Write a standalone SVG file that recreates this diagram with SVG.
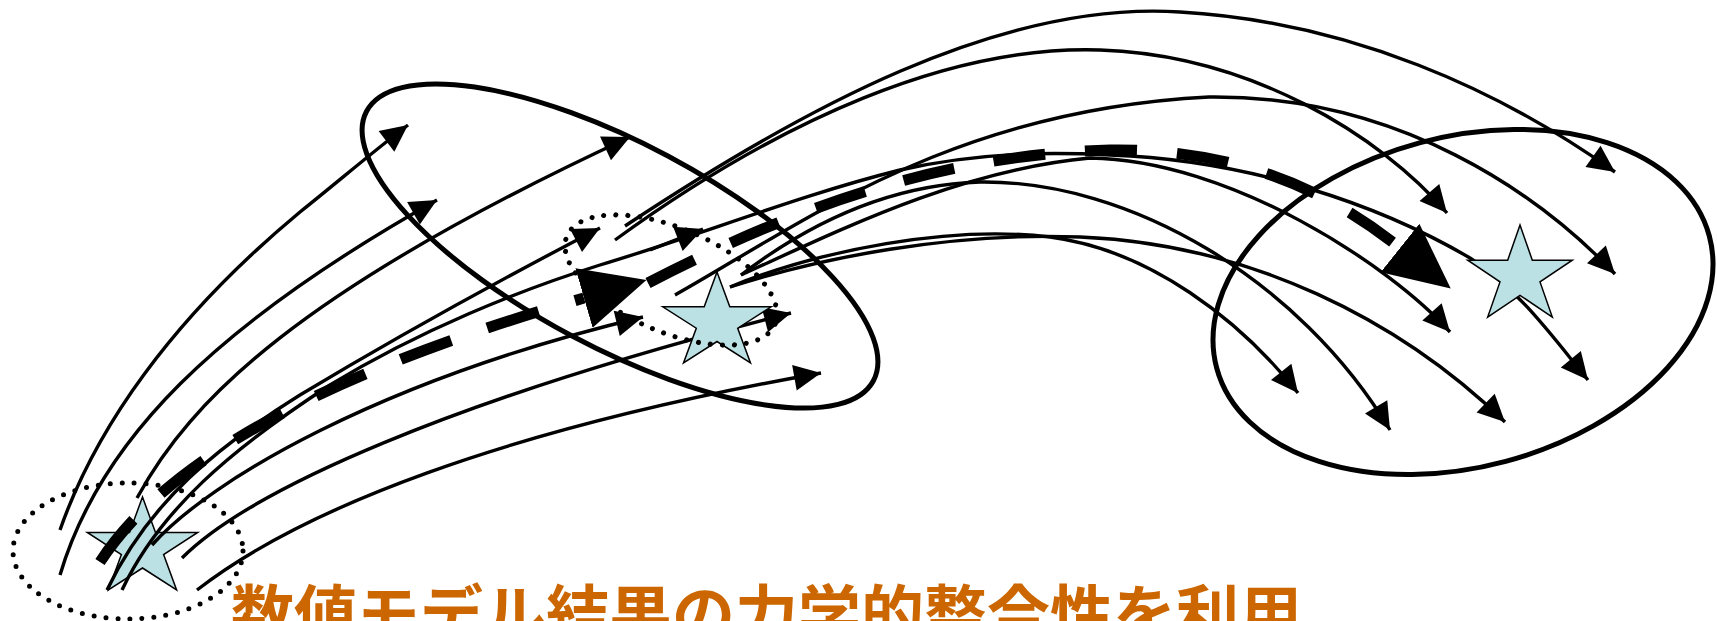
<svg xmlns="http://www.w3.org/2000/svg" width="1717" height="621" viewBox="0 0 1717 621">
<style>
.ln{fill:none;stroke:#000;stroke-width:3.4;marker-end:url(#ah)}
.dash{fill:none;stroke:#000;stroke-width:11;marker-end:url(#bh)}
.ring{fill:none;stroke:#000;stroke-width:5}
.dot{fill:none;stroke:#000;stroke-width:5;stroke-dasharray:0 12;stroke-linecap:round}
.star{fill:#BCE1E4;stroke:#000;stroke-width:1.5}
.lbl{font-family:'Noto Sans CJK JP','Noto Sans CJK SC',sans-serif;font-weight:bold;font-size:63px;fill:#CC6600}
</style>
<defs>
<marker id="ah" markerUnits="userSpaceOnUse" viewBox="-28 -14 29 28" markerWidth="29" markerHeight="28" refX="0" refY="0" orient="auto"><path d="M0,0 L-27,-13 L-27,13 Z" fill="#000"/></marker>
<marker id="bh" markerUnits="userSpaceOnUse" viewBox="0 -32 66 64" markerWidth="66" markerHeight="64" refX="0" refY="0" orient="auto"><path d="M0,-31 L65,0 L0,31 Z" fill="#000"/></marker>
</defs>
<rect width="1717" height="621" fill="#fff"/>
<g id="star-start"><polygon class="star" points="142.5,497 155.5,532.5 197.7,532.5 163.6,554.5 176.6,590 142.5,568 108.4,590 121.4,554.5 87.3,532.5 129.5,532.5"/></g>
<g id="connectors">
<path class="ln" d="M60,530 C95,430 170,320 300,212 C340,180 375,150 408,125"/>
<path class="ln" d="M60,575 C100,440 215,325 437,200"/>
<path class="ln" d="M137,498 C190,400 300,290 630,137"/>
<path class="ln" d="M107,590 C150,500 220,445 300,395 C400,335 500,280 600,228"/>
<path class="ln" d="M122,590 C160,510 230,450 330,385 C420,330 520,290 600,265 C700,235 800,195 900,170 C980,152 1050,152 1110,155 C1250,160 1380,205 1470,258 C1520,290 1555,340 1588,380"/>
<path class="ln" d="M152,545 C210,480 380,380 643,317"/>
<path class="ln" d="M182,558 C250,490 450,400 791,313"/>
<path class="ln" d="M197,590 C300,510 500,430 821,373"/>
<path class="ln" d="M650,250 L703,229"/>
<path class="ln" d="M625,226 C800,110 1000,0 1180,12 C1350,22 1500,90 1615,172"/>
<path class="ln" d="M615,240 C780,120 950,45 1100,50 C1250,55 1380,135 1447,213"/>
<path class="ln" d="M675,295 C800,225 950,110 1209,97 C1400,95 1540,195 1615,274"/>
<path class="ln" d="M741,275 C840,230 960,170 1090,158 C1230,160 1390,265 1450,332"/>
<path class="ln" d="M741,275 C800,230 880,185 980,182 C1130,180 1300,280 1390,430"/>
<path class="ln" d="M730,287 C820,250 950,225 1050,237 C1150,250 1240,320 1298,393"/>
<path class="ln" d="M730,287 C820,258 950,232 1080,237 C1250,244 1400,320 1505,422"/>
<path class="dash" stroke-dasharray="54 38" d="M100,562 C160,470 300,380 584,298"/>
<path class="dash" stroke-dasharray="52 40" d="M648,283 C780,215 930,155 1110,150 C1250,148 1340,200 1400,248"/>
</g>
<g id="region-t1"><ellipse class="ring" cx="620" cy="246" rx="287" ry="102" transform="rotate(28 620 246)"/></g>
<g id="region-t2"><ellipse class="ring" cx="1463" cy="302" rx="255" ry="165" transform="rotate(-15 1463 302)"/></g>
<g id="star-mid"><polygon class="star" points="717,272 729.8,306.8 771.2,306.8 737.7,328.2 750.5,363 717,341.5 683.5,363 696.3,328.2 662.8,306.8 704.2,306.8"/></g>
<g id="star-end"><polygon class="star" points="1520,225 1532.3,260.2 1572.3,260.2 1540,281.9 1552.3,317.1 1520,295.3 1487.7,317.1 1500,281.9 1467.7,260.2 1507.7,260.2"/></g>
<g id="init-spread"><ellipse class="dot" cx="128" cy="551" rx="115" ry="68"/></g>
<g id="analysis-spread"><ellipse class="dot" cx="671" cy="280" rx="113" ry="52" transform="rotate(23 671 280)"/></g>
<g id="caption"><text class="lbl" x="231" y="637">数値モデル結果の力学的整合性を利用</text></g>
</svg>
